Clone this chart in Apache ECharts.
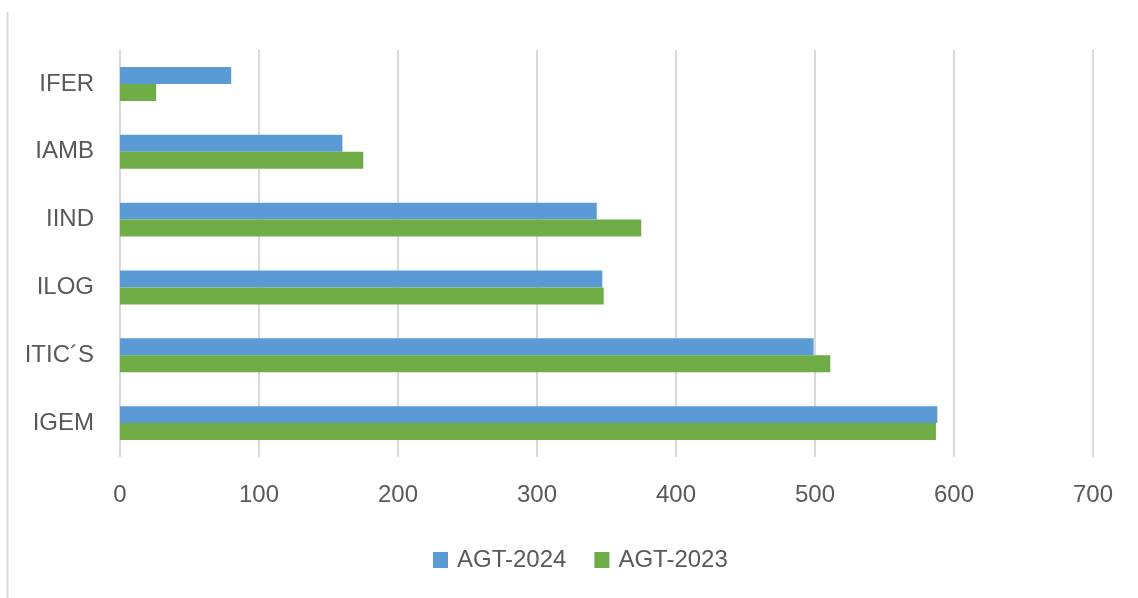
<!DOCTYPE html>
<html>
<head>
<meta charset="utf-8">
<script src="https://cdn.jsdelivr.net/npm/echarts@6/dist/echarts.min.js"></script>
<style>html,body{margin:0;padding:0;background:#fff}#c{width:1138px;height:598px}</style>
</head>
<body>
<div id="c"></div>
<script>
const categories = ["IGEM", "ITIC\u00B4S", "ILOG", "IIND", "IAMB", "IFER"];
const seriesNames = ["AGT-2024", "AGT-2023"];
const agt2024 = [588, 499, 347, 343, 160, 80];
const agt2023 = [587, 511, 348, 375, 175, 26];
const xTicks = [0, 700, 100];

const chart = echarts.init(document.getElementById('c'));
const font = '"Liberation Sans", Arial, sans-serif';
chart.setOption({
  animation: false,
  backgroundColor: '#ffffff',
  textStyle: { fontFamily: font },
  grid: { left: 120, right: 45, top: 50, bottom: 141, containLabel: false },
  legend: {
    data: seriesNames,
    left: 433,
    top: 548,
    padding: 0,
    itemWidth: 15,
    itemHeight: 16,
    itemGap: 28,
    icon: 'rect',
    textStyle: { color: '#595959', fontSize: 24, fontFamily: font, padding: [0, 0, 0, 4] }
  },
  xAxis: {
    type: 'value',
    min: xTicks[0],
    max: xTicks[1],
    interval: xTicks[2],
    axisLine: { show: false },
    axisTick: { show: false },
    axisLabel: { color: '#595959', fontSize: 24, margin: 26, fontFamily: font },
    splitLine: { show: true, lineStyle: { color: '#d9d9d9', width: 2 } }
  },
  yAxis: {
    type: 'category',
    data: categories,
    axisLine: { show: false },
    axisTick: { show: false },
    axisLabel: { color: '#595959', fontSize: 24, margin: 26, fontFamily: font },
    splitLine: { show: false }
  },
  graphic: [{
    type: 'line',
    shape: { x1: 7.5, y1: 12, x2: 7.5, y2: 598 },
    style: { stroke: '#d9d9d9', lineWidth: 2 }
  }],
  series: [
    {
      name: seriesNames[0], type: 'bar', data: agt2024,
      itemStyle: { color: '#5B9BD5' },
      barGap: '0%', barCategoryGap: '50%'
    },
    {
      name: seriesNames[1], type: 'bar', data: agt2023,
      itemStyle: { color: '#70AD47' },
      barGap: '0%', barCategoryGap: '50%'
    }
  ]
});
</script>
</body>
</html>
